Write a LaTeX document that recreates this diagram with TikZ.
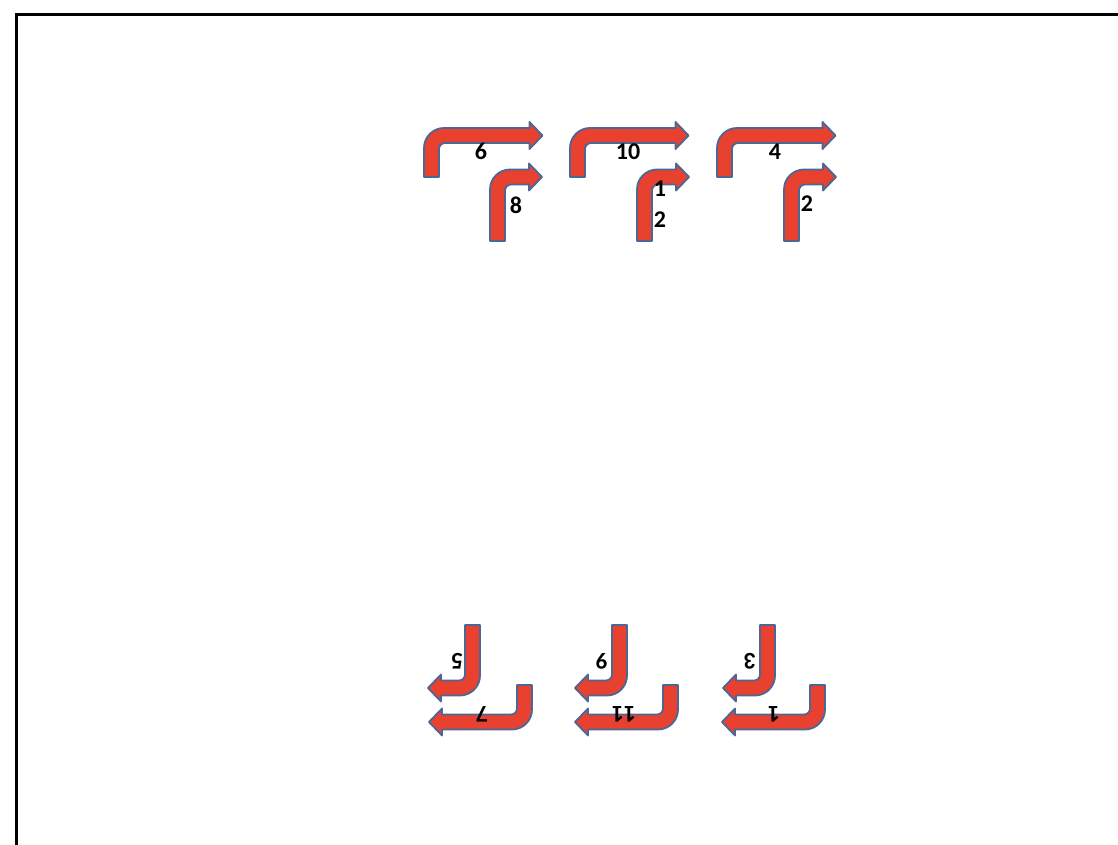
\documentclass[tikz,border=0pt]{standalone}
\usepackage{fontspec}
\usepackage{tikz}
\newfontfamily\numfont{Carlito}
\definecolor{turnRed}{HTML}{E8412F}
\definecolor{turnEdge}{HTML}{4A6796}
% bent arrow: #1 origin, #2 angle, #3 arm height, #4 arm length
\newcommand{\bentarrow}[4]{%
  \filldraw[bent, shift={#1}, rotate=#2]
    (0,0) [rounded corners=20pt] -- (0,-#3-7.5) [sharp corners]
    -- (#4-13,-#3-7.5) -- (#4-13,-#3-13.5) -- (#4,-#3) -- (#4-13,-#3+13.5)
    -- (#4-13,-#3+7.5) [rounded corners=6pt] -- (15,-#3+7.5) [sharp corners]
    -- (15,0) -- cycle;
}

\begin{document}
\begin{tikzpicture}[
  x=1pt, y=-1pt,
  bent/.style={fill=turnRed, draw=turnEdge, line width=1.8pt, line join=round},
  num/.style={font=\numfont\bfseries\fontsize{24}{31}\selectfont, inner sep=0pt, align=center},
  flip/.style={num, rotate=180},
]
  \useasboundingbox (0,0) rectangle (1118,845);
  \draw[line width=3pt] (16,14.5) rectangle (1150,880);

  % upper row
  \foreach \x/\sx in {424/490, 570/637, 717/784} {
    \bentarrow{(\x,177)}{0}{41.5}{118.5}
    \bentarrow{(\sx,241)}{0}{64}{52}
  }
  % lower row, upside down
  \foreach \x/\sx in {532/480, 678/627, 825/775} {
    \bentarrow{(\x,685)}{180}{37}{103}
    \bentarrow{(\sx,625)}{180}{63}{52}
  }

  \node[num] (n6)  at (481,151) {6};
  \node[num] (n8)  at (516,205) {8};
  \node[num] (n10) at (628,152) {10};
  \node[num] (n12) at (660,204) {1\\2};
  \node[num] (n4)  at (775,152) {4};
  \node[num] (n2)  at (807,204) {2};

  \node[flip] (n5)  at (457,661) {5};
  \node[flip] (n7)  at (482,714) {7};
  \node[flip] (n9)  at (602,661) {9};
  \node[flip] (n11) at (624,714) {11};
  \node[flip] (n3)  at (750,661) {3};
  \node[flip] (n1)  at (774,714) {1};
\end{tikzpicture}
\end{document}
